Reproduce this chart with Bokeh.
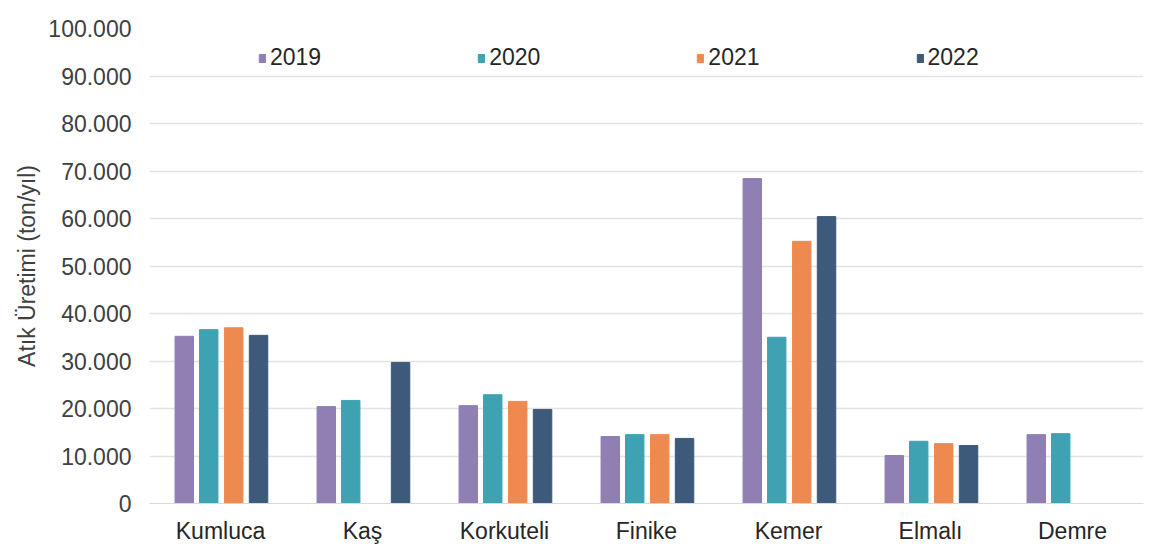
from bokeh.plotting import figure
from bokeh.models import ColumnDataSource, FactorRange, FixedTicker, Legend, LegendItem
from bokeh.transform import dodge
from bokeh.embed import file_html
from bokeh.resources import INLINE

districts = ["Kumluca", "Kaş", "Korkuteli", "Finike", "Kemer", "Elmalı", "Demre"]
years = ["2019", "2020", "2021", "2022"]
v2019 = [35200, 20400, 20600, 14100, 68400, 10100, 14500]
v2020 = [36600, 21700, 22900, 14500, 35000, 13100, 14700]
v2021 = [37000, None, 21500, 14500, 55200, 12600, None]
v2022 = [35400, 29700, 19800, 13700, 60400, 12200, None]
series = [v2019, v2020, v2021, v2022]
colors = ["#8f7fb3", "#3fa2b2", "#ee8a4f", "#3d5a7a"]
offsets = [-0.255, -0.083, 0.093, 0.268]
yticks = [0, 10000, 20000, 30000, 40000, 50000, 60000, 70000, 80000, 90000, 100000]
ytick_labels = ["0", "10.000", "20.000", "30.000", "40.000", "50.000", "60.000",
                "70.000", "80.000", "90.000", "100.000"]

FONT = "Liberation Sans"

p = figure(frame_width=994, frame_height=475,
           x_range=FactorRange(*districts, range_padding=0),
           y_range=(0, 100000), output_backend="svg", toolbar_location=None,
           min_border_left=149, min_border_right=8, min_border_top=28, min_border_bottom=40)

items = []
for yr, vals, col, off in zip(years, series, colors, offsets):
    cats = [d for d, v in zip(districts, vals) if v is not None]
    vv = [v for v in vals if v is not None]
    src = ColumnDataSource(dict(cat=cats, val=vv))
    r = p.vbar(x=dodge("cat", off, range=p.x_range), top="val", width=0.13, source=src,
               fill_color=col, line_color=col)
    items.append(LegendItem(label=yr, renderers=[r]))

legend = Legend(items=items, orientation="horizontal", location=(109, 432),
                glyph_width=8, glyph_height=10, label_standoff=4, spacing=156,
                padding=0, margin=0, border_line_color=None, background_fill_alpha=0,
                label_text_font=FONT, label_text_font_size="23px", label_text_color="#262626")
p.add_layout(legend, "center")

p.yaxis.ticker = FixedTicker(ticks=yticks)
p.yaxis.major_label_overrides = {t: l for t, l in zip(yticks, ytick_labels)}
p.yaxis.axis_label = "Atık Üretimi (ton/yıl)"
p.yaxis.axis_label_text_font = FONT
p.yaxis.axis_label_text_font_size = "23px"
p.yaxis.axis_label_text_font_style = "normal"
p.yaxis.axis_label_text_color = "#404040"
p.yaxis.axis_label_standoff = 5
p.yaxis.major_label_text_font = FONT
p.yaxis.major_label_text_font_size = "23px"
p.yaxis.major_label_text_color = "#404040"
p.yaxis.major_label_standoff = 12
p.yaxis.axis_line_color = None
p.yaxis.major_tick_line_color = None
p.yaxis.minor_tick_line_color = None

p.xaxis.major_label_text_font = FONT
p.xaxis.major_label_text_font_size = "23px"
p.xaxis.major_label_text_color = "#262626"
p.xaxis.major_label_standoff = 8
p.xaxis.axis_line_color = "#d9d9d9"
p.xaxis.major_tick_line_color = None

p.xgrid.grid_line_color = None
p.ygrid.grid_line_color = "#e3e3e3"
p.ygrid.grid_line_width = 1.5
p.outline_line_color = None

open("out.html", "w").write(file_html(p, INLINE))
